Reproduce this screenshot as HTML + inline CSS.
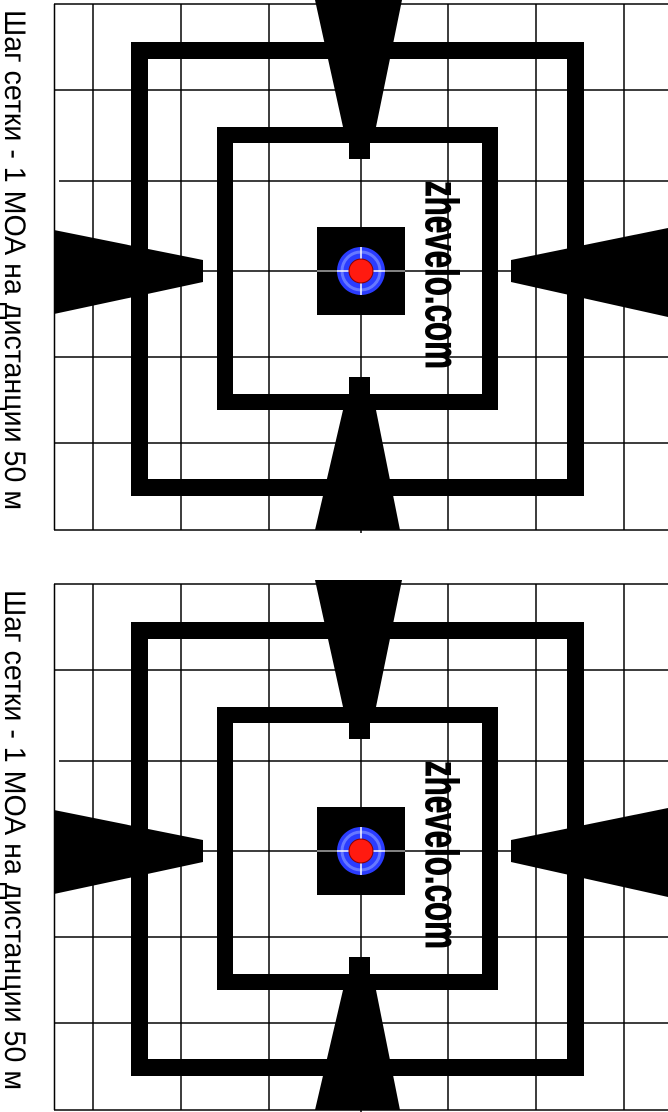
<!DOCTYPE html>
<html><head><meta charset="utf-8"><style>
html,body{margin:0;padding:0;background:#fff;}
svg{display:block;}
</style></head><body>
<svg width="668" height="1112" viewBox="0 0 668 1112" xmlns="http://www.w3.org/2000/svg">
<defs>
<g id="t">
  <g stroke="#000" stroke-width="1.5">
    <line x1="54" y1="4" x2="668" y2="4"/>
    <line x1="54" y1="90" x2="668" y2="90"/>
    <line x1="59" y1="181" x2="668" y2="181"/>
    <line x1="54" y1="271" x2="668" y2="271"/>
    <line x1="54" y1="357" x2="668" y2="357"/>
    <line x1="54" y1="443" x2="668" y2="443"/>
    <line x1="54" y1="530" x2="668" y2="530"/>
    <line x1="54.5" y1="4" x2="54.5" y2="530"/>
    <line x1="93" y1="4" x2="93" y2="530"/>
    <line x1="181" y1="4" x2="181" y2="530"/>
    <line x1="269" y1="4" x2="269" y2="530"/>
    <line x1="361" y1="4" x2="361" y2="533"/>
    <line x1="448" y1="4" x2="448" y2="530"/>
    <line x1="536" y1="4" x2="536" y2="530"/>
    <line x1="624" y1="4" x2="624" y2="530"/>
  </g>
  <rect x="139.5" y="50.5" width="436" height="437" fill="none" stroke="#000" stroke-width="17"/>
  <rect x="225" y="135" width="265" height="267" fill="none" stroke="#000" stroke-width="16"/>
  <polygon points="315,0 402,0 376,127 370,127 370,159 349,159 349,127 343,127" fill="#000"/>
  <polygon points="349,377 370,377 370,395 376,410 400,530 315,530 343,410 349,395" fill="#000"/>
  <polygon points="54,230 203,260 203,282 54,314" fill="#000"/>
  <polygon points="668,228 511,260 511,282 668,317" fill="#000"/>
  <rect x="317" y="227" width="88" height="88" fill="#000"/>
  <circle cx="361" cy="271" r="24" fill="#2a3cff"/>
  <circle cx="361" cy="271" r="19" fill="none" stroke="#8fa0ff" stroke-width="3" opacity="0.6"/>
  <line x1="337" y1="271" x2="385" y2="271" stroke="#fff" stroke-width="1.5"/>
  <line x1="361" y1="247" x2="361" y2="295" stroke="#fff" stroke-width="1.5"/>
  <circle cx="361" cy="271" r="12" fill="#ff1a10" stroke="#800" stroke-width="1"/>
  <line x1="317" y1="271" x2="337" y2="271" stroke="#fff" stroke-width="1"/>
  <line x1="385" y1="271" x2="405" y2="271" stroke="#fff" stroke-width="1"/>
  <text transform="translate(426,181) rotate(90)" font-family="'Liberation Sans Narrow','Liberation Sans',sans-serif" font-weight="bold" font-size="46" textLength="188" lengthAdjust="spacingAndGlyphs" fill="#000" stroke="#000" stroke-width="1">zhevelo.com</text>
  <text transform="translate(5,10) rotate(90)" font-family="'Liberation Sans',sans-serif" font-size="30" textLength="500" lengthAdjust="spacingAndGlyphs" fill="#000">Шаг сетки - 1 МОА на дистанции 50 м</text>
</g>
</defs>
<use href="#t"/>
<use href="#t" transform="translate(0,580)"/>
</svg>
</body></html>
